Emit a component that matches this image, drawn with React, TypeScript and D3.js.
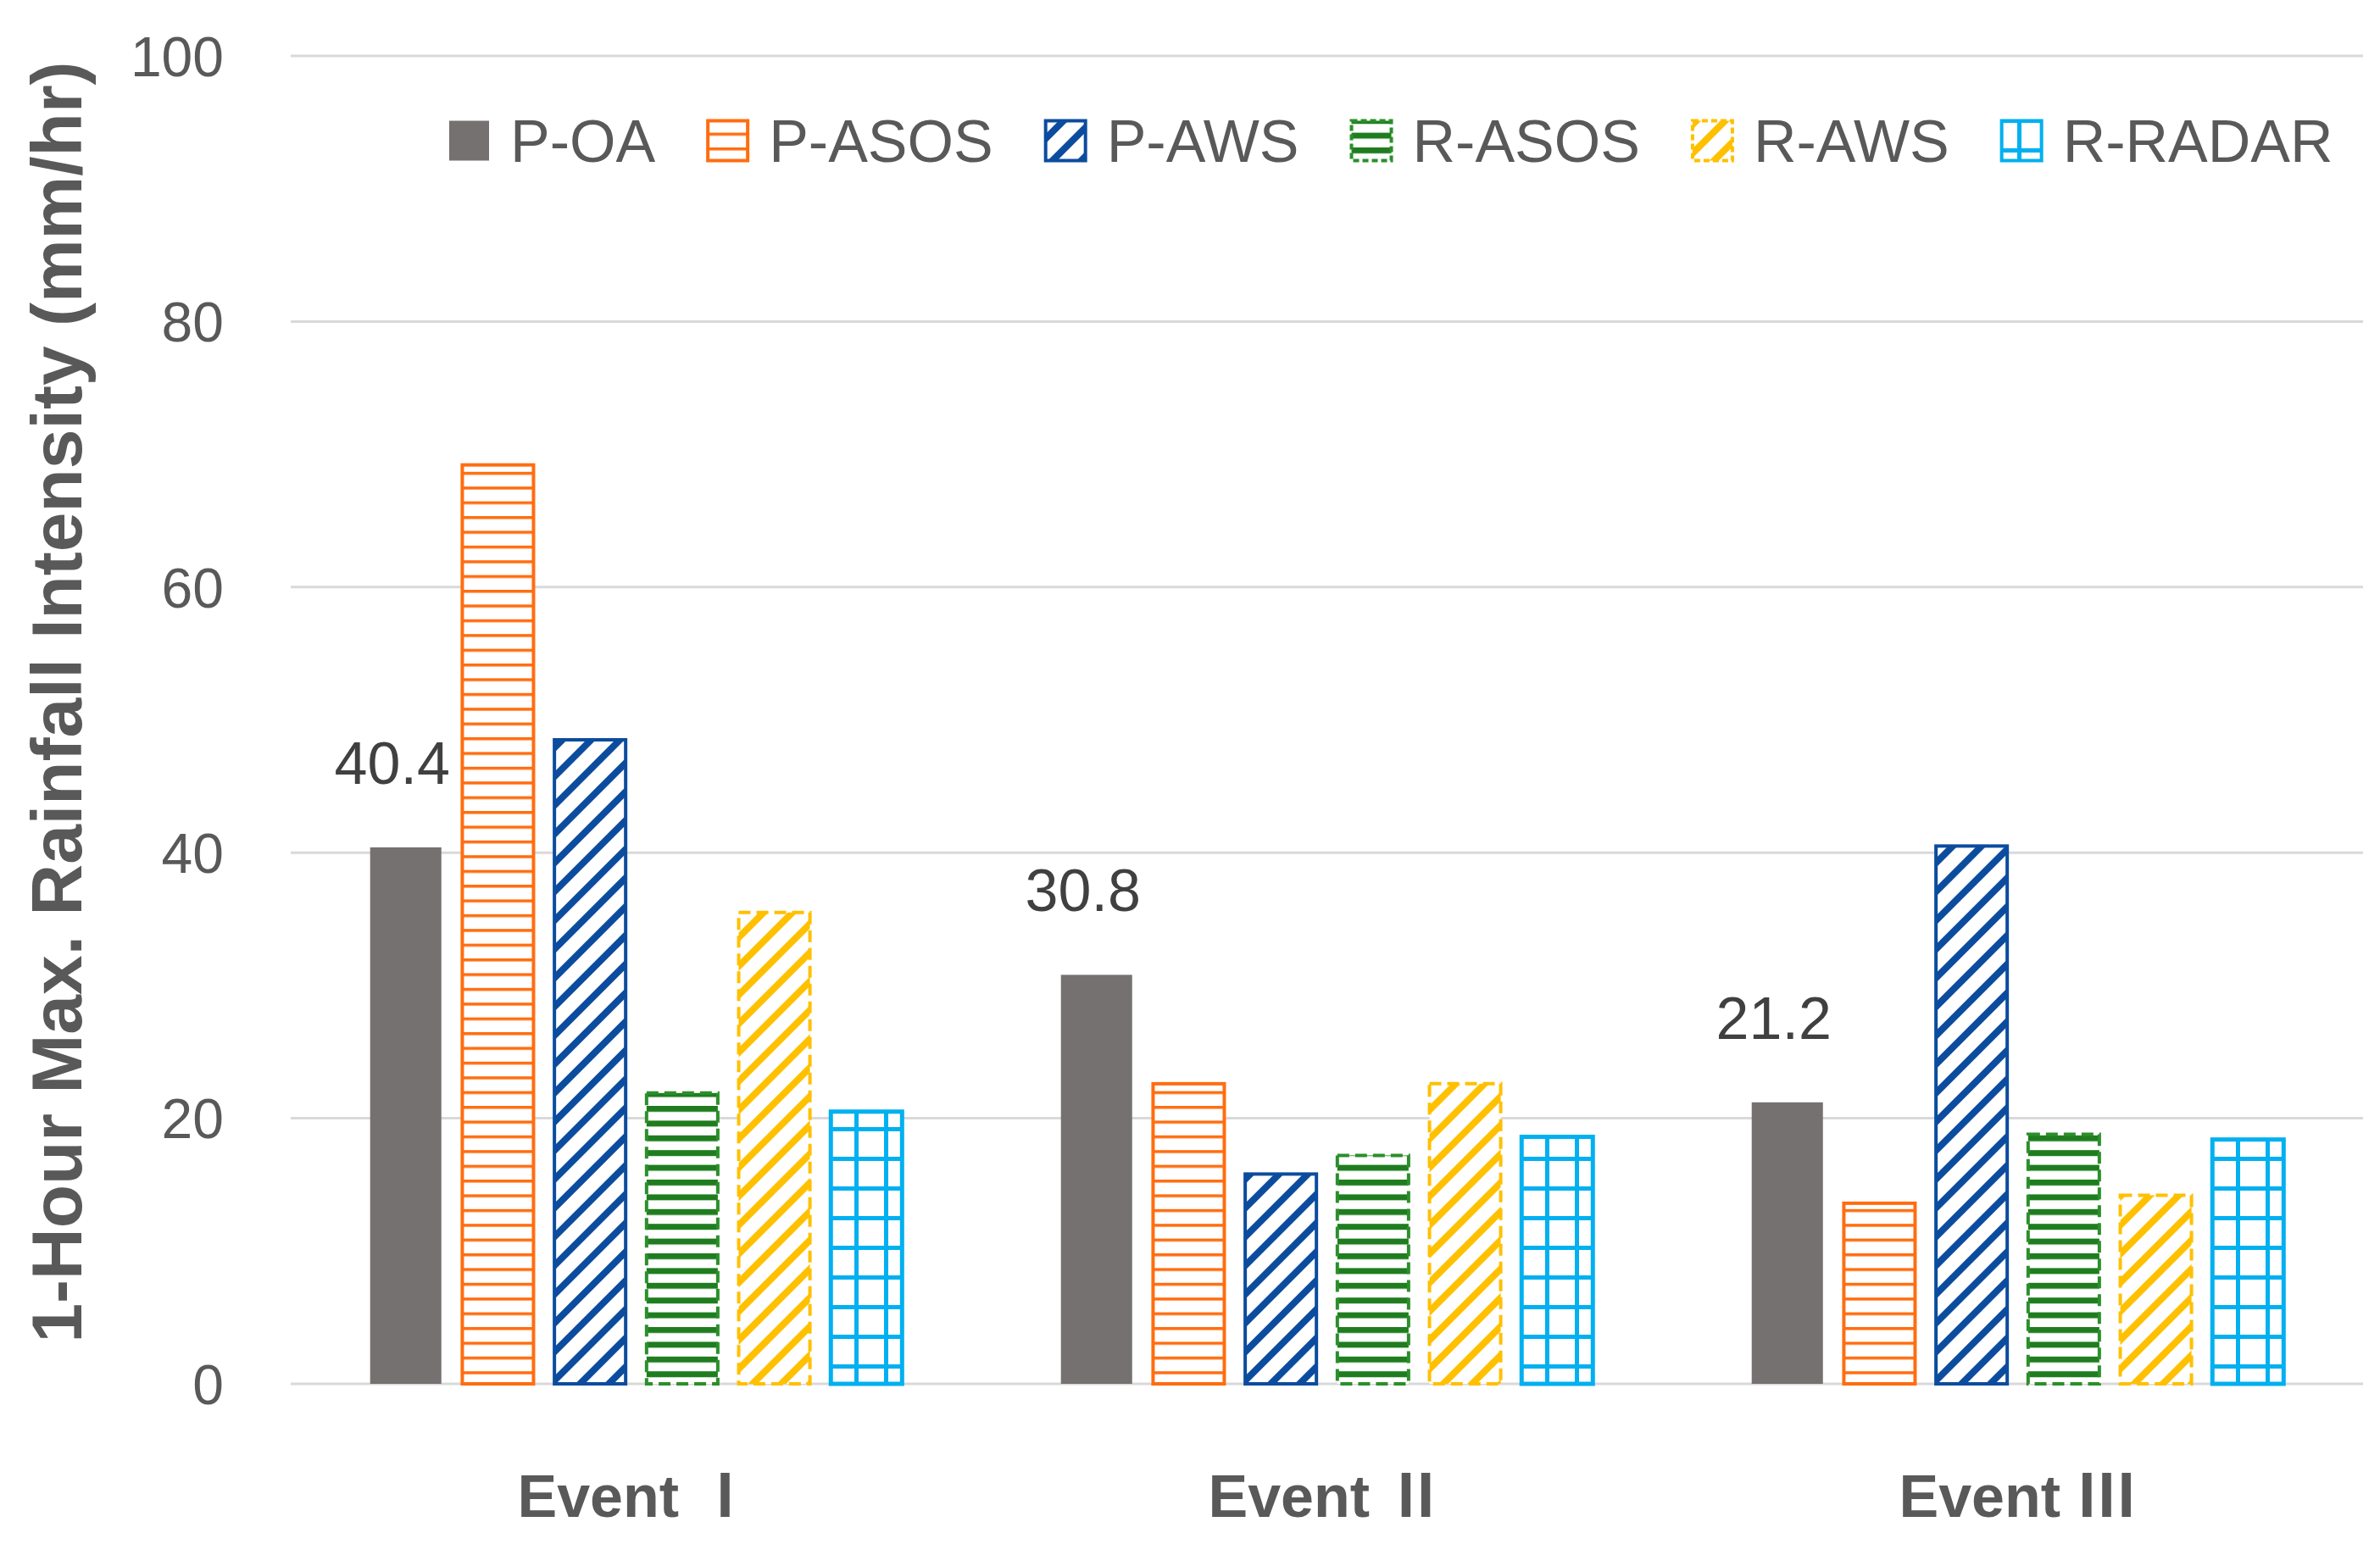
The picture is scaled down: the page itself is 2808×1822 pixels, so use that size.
import { useEffect, useRef } from 'react';
import * as d3 from 'd3';

const events = ['Ⅰ', 'Ⅱ', 'Ⅲ'];
const seriesNames = ['P-OA', 'P-ASOS', 'P-AWS', 'R-ASOS', 'R-AWS', 'R-RADAR'];
const pOA = [40.4, 30.8, 21.2];
const pASOS = [69.2, 22.6, 13.6];
const pAWS = [48.5, 15.8, 40.5];
const rASOS = [21.9, 17.2, 18.8];
const rAWS = [35.5, 22.6, 14.2];
const rRADAR = [20.5, 18.6, 18.4];
const yTicks = [0, 20, 40, 60, 80, 100];

const seriesValues = [pOA, pASOS, pAWS, rASOS, rAWS, rRADAR];

const W = 2808;
const H = 1822;
const TXT = '#595959';

// fill, outline, dashed outline, outline width
const styles: Record<string, { fill: string; stroke: string; dash?: string; sw: number }> = {
  'P-OA': { fill: '#767171', stroke: '#767171', sw: 0 },
  'P-ASOS': { fill: 'url(#pat-pasos)', stroke: '#FF6D10', sw: 4 },
  'P-AWS': { fill: 'url(#pat-paws)', stroke: '#0C4C9E', sw: 4 },
  'R-ASOS': { fill: 'url(#pat-rasos)', stroke: '#2B8F2B', dash: '14 7', sw: 4 },
  'R-AWS': { fill: 'url(#pat-raws)', stroke: '#FFC000', dash: '14 7', sw: 4 },
  'R-RADAR': { fill: 'url(#pat-rradar)', stroke: '#00B0F0', sw: 5 },
};

export default function App() {
  const svgRef = useRef<SVGSVGElement>(null);

  useEffect(() => {
    if (!svgRef.current) return;
    const svg = d3.select(svgRef.current);
    svg.selectAll('*').remove();

    const left = 343, right = 2788, top = 66, bottom = 1633;

    const x0 = d3.scaleBand().domain(events).range([left, right]);
    const x1 = d3.scaleBand().domain(seriesNames).range([0, x0.bandwidth()])
      .paddingInner(0.227).paddingOuter(0.862);
    const y = d3.scaleLinear().domain([0, 100]).range([bottom, top]);

    // patterns
    const defs = svg.append('defs');
    const hLines = (id: string, color: string, size: number, thick: number) => {
      const p = defs.append('pattern').attr('id', id).attr('patternUnits', 'userSpaceOnUse')
        .attr('width', size).attr('height', size);
      p.append('rect').attr('width', size).attr('height', size).attr('fill', '#fff');
      p.append('rect').attr('width', size).attr('height', thick).attr('fill', color);
    };
    const diag = (id: string, color: string, size: number, thick: number) => {
      const p = defs.append('pattern').attr('id', id).attr('patternUnits', 'userSpaceOnUse')
        .attr('width', size).attr('height', size).attr('patternTransform', 'rotate(45)');
      p.append('rect').attr('width', size).attr('height', size).attr('fill', '#fff');
      p.append('rect').attr('width', thick).attr('height', size).attr('fill', color);
    };
    hLines('pat-pasos', '#FF6D10', 17.4, 3.5);
    diag('pat-paws', '#0C4C9E', 24, 8);
    hLines('pat-rasos', '#1F7D1F', 17.4, 7);
    diag('pat-raws', '#FFC000', 24, 8);
    const grid = defs.append('pattern').attr('id', 'pat-rradar').attr('patternUnits', 'userSpaceOnUse')
      .attr('width', 35).attr('height', 35);
    grid.append('rect').attr('width', 35).attr('height', 35).attr('fill', '#fff');
    grid.append('rect').attr('width', 5).attr('height', 35).attr('fill', '#00B0F0');
    grid.append('rect').attr('width', 35).attr('height', 5).attr('fill', '#00B0F0');

    svg.append('rect').attr('width', W).attr('height', H).attr('fill', '#fff');

    // gridlines + tick labels
    svg.append('g').selectAll('line').data(yTicks).join('line')
      .attr('x1', left).attr('x2', right)
      .attr('y1', d => y(d)).attr('y2', d => y(d))
      .attr('stroke', '#D9D9D9').attr('stroke-width', 3);

    svg.append('g').selectAll('text').data(yTicks).join('text')
      .attr('x', 264).attr('y', d => y(d)).attr('dy', '0.36em')
      .attr('text-anchor', 'end')
      .attr('font-family', '"Liberation Sans", Arial, sans-serif')
      .attr('font-size', 66).attr('fill', TXT)
      .text(d => d);

    // bars
    const groups = svg.append('g').selectAll('g').data(events).join('g')
      .attr('transform', e => `translate(${x0(e)},0)`);

    groups.selectAll('rect')
      .data((_, i) => seriesNames.map((s, k) => ({ s, v: seriesValues[k][i] })))
      .join('rect')
      .attr('x', d => x1(d.s)!)
      .attr('width', x1.bandwidth())
      .attr('y', d => y(d.v))
      .attr('height', d => y(0) - y(d.v))
      .attr('fill', d => styles[d.s].fill)
      .attr('stroke', d => (styles[d.s].sw ? styles[d.s].stroke : 'none'))
      .attr('stroke-width', d => styles[d.s].sw)
      .attr('stroke-dasharray', d => styles[d.s].dash || null);

    // data labels on P-OA only
    svg.append('g').selectAll('text').data(events).join('text')
      .attr('x', (e) => x0(e)! + x1('P-OA')! + x1.bandwidth() / 2 - 16)
      .attr('y', (_, i) => y(pOA[i]) - 75)
      .attr('text-anchor', 'middle')
      .attr('font-family', '"Liberation Sans", Arial, sans-serif')
      .attr('font-size', 70).attr('fill', '#404040')
      .text((_, i) => pOA[i].toFixed(1));

    // category labels
    const cat = svg.append('g').selectAll('text').data(events).join('text')
      .attr('x', e => x0(e)! + x0.bandwidth() / 2)
      .attr('y', 1790)
      .attr('text-anchor', 'middle')
      .attr('font-family', '"Liberation Sans", Arial, sans-serif')
      .attr('font-weight', 'bold')
      .attr('font-size', 70).attr('fill', TXT);
    cat.append('tspan').text('Event ');
    cat.append('tspan').attr('font-family', '"Noto Sans CJK KR", sans-serif').text(e => e);

    // y axis title
    svg.append('text')
      .attr('transform', `translate(96,${(72 + 1585) / 2}) rotate(-90)`)
      .attr('text-anchor', 'middle')
      .attr('font-family', '"Liberation Sans", Arial, sans-serif')
      .attr('font-weight', 'bold')
      .attr('font-size', 84).attr('fill', TXT)
      .text('1-Hour Max. Rainfall Intensity (mm/hr)');

    // legend
    const leg = svg.append('g');
    let lx = 530;
    const ly = 166;
    const box = 47;
    seriesNames.forEach(s => {
      const st = styles[s];
      leg.append('rect')
        .attr('x', lx).attr('y', ly - box / 2).attr('width', box).attr('height', box)
        .attr('fill', st.fill)
        .attr('stroke', st.sw ? st.stroke : 'none')
        .attr('stroke-width', st.sw ? 4 : 0)
        .attr('stroke-dasharray', st.dash ? '7 4' : null);
      const t = leg.append('text')
        .attr('x', lx + box + 25).attr('y', ly).attr('dy', '0.36em')
        .attr('font-family', '"Liberation Sans", Arial, sans-serif')
        .attr('font-size', 70).attr('fill', TXT)
        .text(s);
      const tw = (t.node() as SVGTextElement).getComputedTextLength();
      lx += box + 25 + tw + 62;
    });
  }, []);

  return (
    <svg ref={svgRef} width={W} height={H}
      style={{ position: 'absolute', left: 0, top: 0, display: 'block' }} />
  );
}
